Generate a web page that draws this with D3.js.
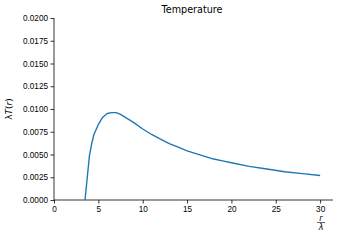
<!DOCTYPE html>
<html>
<head>
<meta charset="utf-8">
<script src="https://d3js.org/d3.v7.min.js"></script>
<style>
body { margin: 0; background: white; }
svg { display: block; font-family: 'DejaVu Sans', sans-serif; }
</style>
</head>
<body>
<svg width="340" height="241"></svg>
<script>
// values
const rValues = [3.5, 3.75, 4.0, 4.25, 4.5, 5.0, 5.5, 6.0, 6.5, 7.0, 7.5, 8.0, 9.0, 10, 11, 12, 13, 14, 15, 16, 17, 18, 19, 20, 22, 24, 26, 28, 30]
const tValues = [0, 0.0025, 0.0049, 0.0062, 0.0072, 0.0083, 0.0091, 0.0095, 0.0096, 0.0096, 0.0094, 0.0091, 0.0085, 0.0078, 0.0072, 0.0067, 0.0062, 0.0058, 0.0054, 0.0051, 0.0048, 0.0045, 0.0043, 0.0041, 0.0037, 0.0034, 0.0031, 0.0029, 0.0027]
const xTicks = [0, 5, 10, 15, 20, 25, 30]
const yTicks = [0, 0.0025, 0.005, 0.0075, 0.01, 0.0125, 0.015, 0.0175, 0.02]

const mLeft = 54, mRight = 333, mTop = 18, mBottom = 200
const svg = d3.select('svg')

const x = d3.scaleLinear().domain([0, 31.45]).range([mLeft, mRight])
const y = d3.scaleLinear().domain([0, 0.02]).range([mBottom, mTop])

const data = rValues.map((r, i) => ({ r: r, t: tValues[i] }))

// axes
const xAxis = svg.append('g')
	.attr('transform', 'translate(0,' + mBottom + ')')
	.call(d3.axisBottom(x).tickValues(xTicks).tickSize(3.5).tickPadding(2.5).tickFormat(d3.format('d')))
const yAxis = svg.append('g')
	.attr('transform', 'translate(' + mLeft + ',0)')
	.call(d3.axisLeft(y).tickValues(yTicks).tickSize(3.5).tickPadding(2.5).tickFormat(d3.format('.4f')))

for (const g of [xAxis, yAxis]) {
	g.selectAll('text').style('font-size', '8.2px').attr('fill', '#000')
	g.selectAll('line').attr('stroke', '#000').attr('stroke-width', 0.8)
	g.select('.domain').attr('stroke', '#000').attr('stroke-width', 0.8)
}
xAxis.select('.domain').attr('d', 'M' + mLeft + ',0H' + mRight)
yAxis.select('.domain').attr('d', 'M0,' + mBottom + 'V' + mTop)

// curve
svg.append('path')
	.datum(data)
	.attr('fill', 'none')
	.attr('stroke', '#1f77b4')
	.attr('stroke-width', 1.4)
	.attr('stroke-linejoin', 'round')
	.attr('d', d3.line().x(d => x(d.r)).y(d => y(d.t)))

// title
svg.append('text')
	.attr('x', 192)
	.attr('y', 13)
	.attr('text-anchor', 'middle')
	.style('font-size', '9.6px')
	.text('Temperature')

// y label: λT(r)
const yl = svg.append('text')
	.attr('transform', 'translate(12,' + ((mTop + mBottom) / 2) + ') rotate(-90)')
	.attr('text-anchor', 'middle')
	.style('font-size', '9px')
yl.append('tspan').text('λ')
yl.append('tspan').style('font-style', 'italic').text('T')
yl.append('tspan').text('(')
yl.append('tspan').style('font-style', 'italic').text('r')
yl.append('tspan').text(')')

// x label: r over λ
const fx = 321
svg.append('text')
	.attr('x', fx).attr('y', 220.5)
	.attr('text-anchor', 'middle')
	.style('font-size', '8px')
	.style('font-style', 'italic')
	.text('r')
svg.append('line')
	.attr('x1', fx - 4).attr('x2', fx + 4)
	.attr('y1', 222.5).attr('y2', 222.5)
	.attr('stroke', '#000').attr('stroke-width', 0.6)
svg.append('text')
	.attr('x', fx).attr('y', 230)
	.attr('text-anchor', 'middle')
	.style('font-size', '8px')
	.style('font-style', 'italic')
	.text('λ')
</script>
</body>
</html>
